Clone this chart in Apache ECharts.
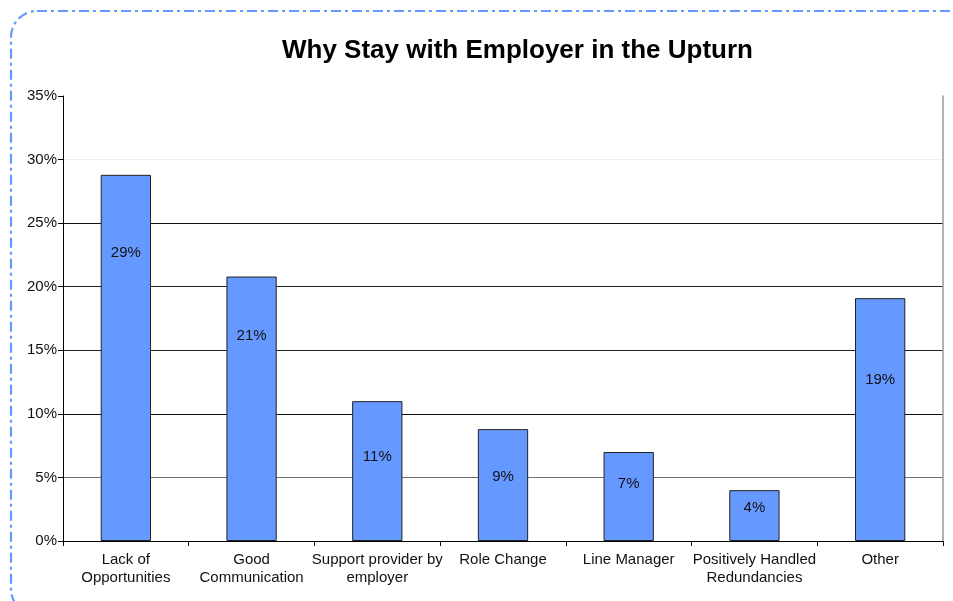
<!DOCTYPE html>
<html>
<head>
<meta charset="utf-8">
<script src="https://cdn.jsdelivr.net/npm/echarts@6/dist/echarts.min.js"></script>
<style>
  html, body { margin: 0; padding: 0; background: #fff; }
  #chart { width: 953px; height: 601px; }
</style>
</head>
<body>
<div id="chart"></div>
<script>
// Reasons for staying with the employer, share of respondents (%)
var categories = [
  'Lack of\nOpportunities',
  'Good\nCommunication',
  'Support provider by\nemployer',
  'Role Change',
  'Line Manager',
  'Positively Handled\nRedundancies',
  'Other'
];
var shares = [28.8, 20.8, 11.0, 8.8, 7.0, 4.0, 19.1];
var yTicks = [0, 5, 10, 15, 20, 25, 30, 35];

// Vertical placement of each value label inside its bar (fraction from the bar top)
var labelSpots = [0.213, 0.223, 0.396, 0.43, 0.36, 0.35, 0.337];

var FONT = 'Liberation Sans, Arial, sans-serif';

var chart = echarts.init(document.getElementById('chart'), null, { renderer: 'canvas' });

var barData = shares.map(function (v, i) {
  return {
    value: v,
    label: { position: ['50%', (labelSpots[i] * 100) + '%'] }
  };
});

chart.setOption({
  animation: false,
  backgroundColor: '#fff',
  title: {
    text: 'Why Stay with Employer in the Upturn',
    left: 277,
    top: 33,
    textStyle: { fontFamily: FONT, fontSize: 26, fontWeight: 'bold', color: '#000' }
  },
  graphic: [{
    type: 'rect',
    silent: true,
    shape: { x: 11, y: 11, width: 962, height: 604, r: 26 },
    style: { fill: 'none', stroke: '#6699ff', lineWidth: 2.2, lineDash: [10, 4, 3, 4] }
  }],
  grid: { left: 63, right: 10, top: 96, bottom: 60, containLabel: false },
  xAxis: {
    type: 'category',
    data: categories,
    boundaryGap: true,
    axisLine: { lineStyle: { color: '#000', width: 1 } },
    axisTick: { show: true, alignWithLabel: false, length: 5, lineStyle: { color: '#000' } },
    axisLabel: {
      interval: 0,
      margin: 10,
      color: '#111',
      fontFamily: FONT,
      fontSize: 15,
      lineHeight: 18
    },
    splitLine: { show: false }
  },
  yAxis: [{
    type: 'value',
    min: yTicks[0],
    max: yTicks[yTicks.length - 1],
    interval: 5,
    axisLine: { show: true, lineStyle: { color: '#000', width: 1 } },
    axisTick: { show: true, length: 5, lineStyle: { color: '#000' } },
    axisLabel: {
      formatter: '{value}%',
      color: '#111',
      fontFamily: FONT,
      fontSize: 15,
      margin: 6
    },
    splitLine: {
      show: true,
      lineStyle: {
        color: ['rgba(0,0,0,0)', '#707070', '#111', '#222', '#222', '#111', '#eeeeee', 'rgba(0,0,0,0)'],
        width: 1
      }
    }
  }, {
    type: 'value',
    position: 'right',
    min: yTicks[0],
    max: yTicks[yTicks.length - 1],
    interval: 5,
    axisLine: { show: true, lineStyle: { color: '#999', width: 1.5 } },
    axisTick: { show: false },
    axisLabel: { show: false },
    splitLine: { show: false }
  }],
  series: [{
    type: 'bar',
    data: barData,
    barWidth: '40%',
    itemStyle: { color: '#6699ff', borderColor: '#222', borderWidth: 1 },
    label: {
      show: true,
      align: 'center',
      verticalAlign: 'middle',
      formatter: function (p) { return Math.round(p.value) + '%'; },
      color: '#111',
      fontFamily: FONT,
      fontSize: 15
    }
  }]
});
</script>
</body>
</html>
